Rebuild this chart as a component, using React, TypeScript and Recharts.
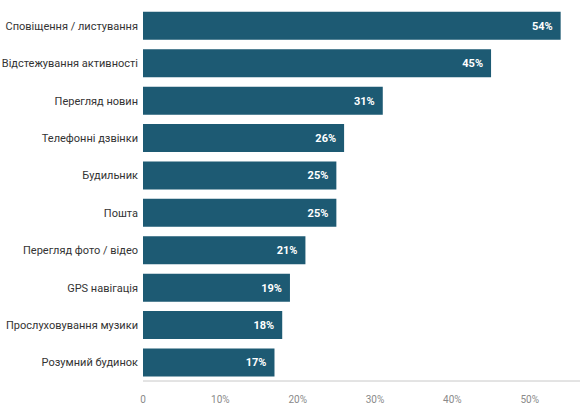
import { BarChart, Bar, XAxis, YAxis, LabelList } from "recharts";

const categories = [
  "Сповіщення / листування",
  "Відстежування активності",
  "Перегляд новин",
  "Телефонні дзвінки",
  "Будильник",
  "Пошта",
  "Перегляд фото / відео",
  "GPS навігація",
  "Прослуховування музики",
  "Розумний будинок",
];

const shares = [54, 45, 31, 26, 25, 25, 21, 19, 18, 17];

const xTicks = [0, 10, 20, 30, 40, 50];

const data = categories.map((name, i) => ({ name, value: shares[i] }));

// single-line category label (default tick wraps long text)
function CategoryTick(props: any) {
  const { x, y, payload } = props;
  return (
    <text
      x={x}
      y={y}
      dy={4}
      textAnchor="end"
      fill="#333"
      fontSize={11}
      fontFamily="Roboto"
    >
      {payload.value}
    </text>
  );
}

export default function App() {
  return (
    <div style={{ position: "absolute", left: 0, top: 0, background: "#fff" }}>
      <BarChart
        width={581}
        height={406}
        data={data}
        layout="vertical"
        margin={{ top: 7, right: 1, bottom: 0, left: 0 }}
        barCategoryGap="13%"
      >
        <XAxis
          type="number"
          domain={[0, 56.5]}
          ticks={xTicks}
          tickFormatter={(v: number) => (v === 0 ? "0" : `${v}%`)}
          axisLine={{ stroke: "#c8c8c8" }}
          tickLine={false}
          tickMargin={9}
          height={25}
          tick={{ fill: "#8a8a8a", fontSize: 10, fontFamily: "Roboto" }}
        />
        <YAxis
          type="category"
          dataKey="name"
          width={143}
          axisLine={false}
          tickLine={false}
          tickSize={2}
          tickMargin={3}
          interval={0}
          tick={<CategoryTick />}
        />
        <Bar dataKey="value" fill="#1d5a73" isAnimationActive={false}>
          <LabelList
            dataKey="value"
            position="insideRight"
            offset={8}
            formatter={(v: number) => `${v}%`}
            style={{ fill: "#fff", fontSize: 11, fontWeight: 700, fontFamily: "Roboto" }}
          />
        </Bar>
      </BarChart>
    </div>
  );
}
